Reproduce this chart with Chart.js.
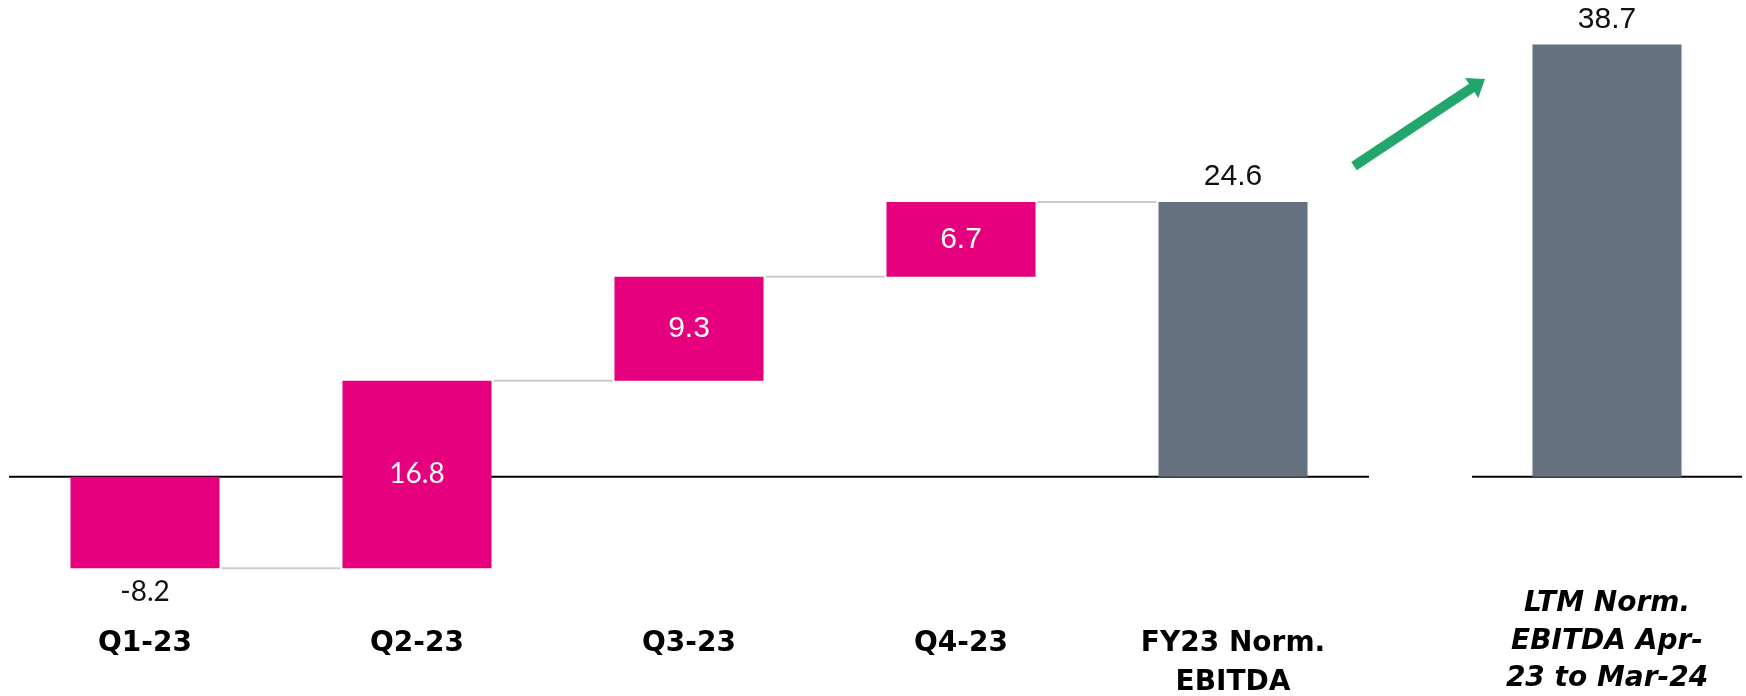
<!DOCTYPE html>
<html>
<head>
<meta charset="utf-8">
<script src="https://cdn.jsdelivr.net/npm/chart.js@4.4.1/dist/chart.umd.min.js"></script>
<style>
  html, body { margin: 0; padding: 0; background: #ffffff; }
  #wrap { position: relative; width: 1746px; height: 696px; }
  .layer { position: absolute; left: 0; top: 0; width: 1746px; height: 696px; }
</style>
</head>
<body>
<div id="wrap">
  <div class="layer"><canvas id="left"></canvas></div>
  <div class="layer"><canvas id="right"></canvas></div>
</div>
<script>
// ---- data ----
const categories = ['Q1-23', 'Q2-23', 'Q3-23', 'Q4-23', ['FY23 Norm.', 'EBITDA']];
const quarterChanges = [-8.2, 16.8, 9.3, 6.7];
const fyTotal = 24.6;
const ltmCategory = [['LTM Norm.', 'EBITDA Apr-', '23 to Mar-24']];
const ltmTotal = 38.7;

// ---- styling ----
const PINK = '#E6007E';
const GREY = '#66717F';
const CONNECTOR = '#CCCCCC';
const PX_PER_UNIT = 11.17;
const ZERO_Y = 476.7;
const Y_MAX = 40;

// build waterfall ranges
const ranges = [];
const displayValues = [];
let run = 0;
quarterChanges.forEach(v => {
  const start = run;
  run = Math.round((run + v) * 10) / 10;
  ranges.push([start, run]);
  displayValues.push(v);
});
ranges.push([0, fyTotal]);
displayValues.push(fyTotal);
const leftColors = quarterChanges.map(() => PINK).concat([GREY]);

function fmt(v) { return v.toFixed(1); }

const zeroLine = {
  id: 'zeroLine',
  beforeDatasetsDraw(chart) {
    const { ctx, chartArea, scales } = chart;
    const y = scales.y.getPixelForValue(0);
    ctx.save();
    ctx.strokeStyle = '#000000';
    ctx.lineWidth = 2;
    ctx.beginPath();
    ctx.moveTo(chartArea.left, y);
    ctx.lineTo(chartArea.right, y);
    ctx.stroke();
    ctx.restore();
  }
};

const connectors = {
  id: 'connectors',
  afterDatasetsDraw(chart) {
    const meta = chart.getDatasetMeta(0);
    const ds = chart.data.datasets[0].data;
    const { ctx, scales } = chart;
    ctx.save();
    ctx.strokeStyle = CONNECTOR;
    ctx.lineWidth = 2;
    for (let i = 0; i < meta.data.length - 1; i++) {
      const a = meta.data[i], b = meta.data[i + 1];
      const y = scales.y.getPixelForValue(ds[i][1]);
      ctx.beginPath();
      ctx.moveTo(a.x + a.width / 2 + 2, y);
      ctx.lineTo(b.x - b.width / 2 - 2, y);
      ctx.stroke();
    }
    ctx.restore();
  }
};

const valueLabels = {
  id: 'valueLabels',
  afterDatasetsDraw(chart, args, opts) {
    const meta = chart.getDatasetMeta(0);
    const { ctx } = chart;
    const vals = opts.values;
    ctx.save();
    ctx.textAlign = 'center';
    ctx.textBaseline = 'middle';
    meta.data.forEach((bar, i) => {
      const v = vals[i];
      const top = Math.min(bar.y, bar.base);
      const bottom = Math.max(bar.y, bar.base);
      const isTotal = opts.totals.includes(i);
      if (isTotal) {
        ctx.fillStyle = '#111111';
        ctx.font = '30px "Liberation Sans", Arial, sans-serif';
        ctx.fillText(fmt(v), bar.x, top - 25);
      } else if (v < 0) {
        ctx.fillStyle = '#111111';
        ctx.font = '28px Lato, "Open Sans", sans-serif';
        ctx.fillText(fmt(v), bar.x, bottom + 24);
      } else {
        ctx.fillStyle = '#FFFFFF';
        ctx.font = opts.lightInside.includes(i)
          ? '28px Lato, "Open Sans", sans-serif'
          : '30px "Liberation Sans", Arial, sans-serif';
        ctx.fillText(fmt(v), bar.x, (top + bottom) / 2);
      }
    });
    ctx.restore();
  }
};

const arrow = {
  id: 'arrow',
  afterDraw(chart) {
    const { ctx, scales } = chart;
    const x0 = 1354, y0 = scales.y.getPixelForValue(27.8);
    const x1 = 1485, y1 = scales.y.getPixelForValue(35.6);
    const ang = Math.atan2(y1 - y0, x1 - x0);
    const headLen = 16, headW = 12, shaftW = 10;
    const bx = x1 - headLen * Math.cos(ang), by = y1 - headLen * Math.sin(ang);
    ctx.save();
    ctx.strokeStyle = '#23A66E';
    ctx.fillStyle = '#23A66E';
    ctx.lineWidth = shaftW;
    ctx.lineCap = 'butt';
    ctx.beginPath();
    ctx.moveTo(x0, y0);
    ctx.lineTo(bx + 1 * Math.cos(ang), by + 1 * Math.sin(ang));
    ctx.stroke();
    const px = -Math.sin(ang), py = Math.cos(ang);
    ctx.beginPath();
    ctx.moveTo(x1, y1);
    ctx.lineTo(bx + px * headW, by + py * headW);
    ctx.lineTo(bx - px * headW, by - py * headW);
    ctx.closePath();
    ctx.fill();
    ctx.restore();
  }
};

function makeScales(yMin, axisHeight, tickPadding, lineHeight, italic) {
  return {
    x: {
      grid: { display: false, drawTicks: false },
      border: { display: false },
      ticks: {
        color: '#000000',
        padding: tickPadding,
        autoSkip: false,
        maxRotation: 0,
        minRotation: 0,
        font: {
          family: '"DejaVu Sans", sans-serif',
          size: 28,
          weight: 'bold',
          style: italic ? 'italic' : 'normal',
          lineHeight: lineHeight
        }
      },
      afterFit(scale) { scale.height = axisHeight; }
    },
    y: {
      display: false,
      min: yMin,
      max: Y_MAX
    }
  };
}

Chart.defaults.animation = false;

const topPad = ZERO_Y - Y_MAX * PX_PER_UNIT;

// Left chart: quarters + FY23
const leftMin = -10;
const leftBottom = ZERO_Y - leftMin * PX_PER_UNIT;
const leftLH = 1.4;
new Chart(document.getElementById('left'), {
  type: 'bar',
  data: {
    labels: categories,
    datasets: [{
      data: ranges,
      backgroundColor: leftColors,
      borderWidth: 0,
      borderSkipped: false,
      categoryPercentage: 1,
      barPercentage: 0.548
    }]
  },
  options: {
    responsive: true,
    maintainAspectRatio: false,
    animation: false,
    layout: { padding: { left: 9, right: 377, top: topPad, bottom: 0 } },
    plugins: {
      legend: { display: false },
      tooltip: { enabled: false },
      valueLabels: { values: displayValues, totals: [4], lightInside: [1] }
    },
    scales: makeScales(leftMin, 696 - leftBottom, 644 - leftBottom - 28 * leftLH / 2, leftLH, false)
  },
  plugins: [zeroLine, connectors, valueLabels, arrow]
});

// Right chart: LTM
const rightMin = -8;
const rightBottom = ZERO_Y - rightMin * PX_PER_UNIT;
const rightLH = 1.33;
new Chart(document.getElementById('right'), {
  type: 'bar',
  data: {
    labels: ltmCategory,
    datasets: [{
      data: [[0, ltmTotal]],
      backgroundColor: [GREY],
      borderWidth: 0,
      borderSkipped: false,
      categoryPercentage: 1,
      barPercentage: 0.552
    }]
  },
  options: {
    responsive: true,
    maintainAspectRatio: false,
    animation: false,
    layout: { padding: { left: 1472, right: 4, top: topPad, bottom: 0 } },
    plugins: {
      legend: { display: false },
      tooltip: { enabled: false },
      valueLabels: { values: [ltmTotal], totals: [0], lightInside: [] }
    },
    scales: makeScales(rightMin, 696 - rightBottom, 604 - rightBottom - 28 * rightLH / 2, rightLH, true)
  },
  plugins: [zeroLine, valueLabels]
});
</script>
</body>
</html>
